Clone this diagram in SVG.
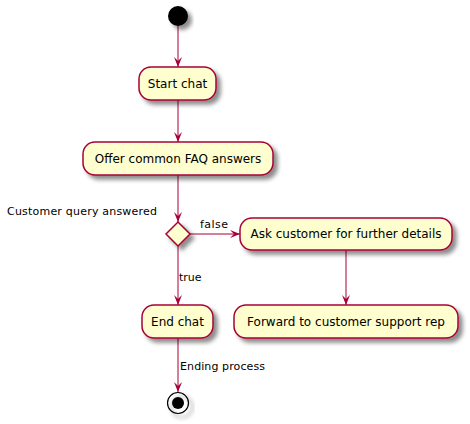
<svg xmlns="http://www.w3.org/2000/svg" width="470" height="424" viewBox="0 0 470 424">
<defs>
<filter id="sh" x="-20%" y="-20%" width="150%" height="160%">
<feGaussianBlur in="SourceAlpha" stdDeviation="2"/>
<feOffset dx="4" dy="4" result="b"/>
<feColorMatrix in="b" type="matrix" values="0 0 0 0 0  0 0 0 0 0  0 0 0 0 0  0 0 0 0.45 0" result="c"/>
<feMerge><feMergeNode in="c"/><feMergeNode in="SourceGraphic"/></feMerge>
</filter>
<marker id="ah" viewBox="-11 -5 12 10" markerWidth="12" markerHeight="10" refX="0" refY="0" orient="auto" markerUnits="userSpaceOnUse">
<path d="M0,0 L-10,-4 L-6,0 L-10,4 Z" fill="#A80036"/>
</marker>
</defs>
<style>
.box{fill:#FEFECE;stroke:#A80036;stroke-width:1.5;}
.t{font-family:"DejaVu Sans",sans-serif;font-size:12px;fill:#000;}
.l{font-family:"DejaVu Sans",sans-serif;font-size:11px;fill:#000;}
.e{stroke:#A80036;stroke-width:1;fill:none;marker-end:url(#ah);}
</style>
<g id="connectors">
<line class="e" x1="178" y1="26" x2="178" y2="67"/>
<line class="e" x1="178" y1="100" x2="178" y2="142"/>
<line class="e" x1="178" y1="175" x2="178" y2="222"/>
<line class="e" x1="190" y1="234" x2="240" y2="234"/>
<text class="l" x="200" y="228" textLength="28">false</text>
<line class="e" x1="178" y1="246" x2="178" y2="305"/>
<text class="l" x="179" y="281">true</text>
<line class="e" x1="346" y1="250" x2="346" y2="305"/>
<line class="e" x1="178" y1="338" x2="178" y2="392"/>
<text class="l" x="180" y="370" textLength="85">Ending process</text>
</g>
<g id="start"><circle cx="178" cy="16" r="10" fill="#000" filter="url(#sh)"/></g>
<g id="startchat"><rect class="box" x="139" y="67" width="77" height="33" rx="12" filter="url(#sh)"/><text class="t" x="177.5" y="88" text-anchor="middle">Start chat</text></g>
<g id="offer"><rect class="box" x="83" y="142" width="190" height="33" rx="12" filter="url(#sh)"/><text class="t" x="178" y="163" text-anchor="middle">Offer common FAQ answers</text></g>
<g id="decision"><polygon class="box" points="178,222 190,234 178,246 166,234" filter="url(#sh)"/><text class="l" x="7" y="215" textLength="150">Customer query answered</text></g>
<g id="ask"><rect class="box" x="240" y="218" width="212" height="32" rx="12" filter="url(#sh)"/><text class="t" x="346" y="238" text-anchor="middle">Ask customer for further details</text></g>
<g id="endchat"><rect class="box" x="142" y="305" width="71" height="33" rx="12" filter="url(#sh)"/><text class="t" x="177.5" y="326" text-anchor="middle">End chat</text></g>
<g id="forward"><rect class="box" x="234" y="305" width="224" height="33" rx="12" filter="url(#sh)"/><text class="t" x="346" y="326" text-anchor="middle">Forward to customer support rep</text></g>
<g id="stop"><circle cx="178" cy="403" r="10.5" fill="none" stroke="#000" stroke-width="1.2" filter="url(#sh)"/><circle cx="178" cy="403" r="6" fill="#000"/></g>
</svg>
